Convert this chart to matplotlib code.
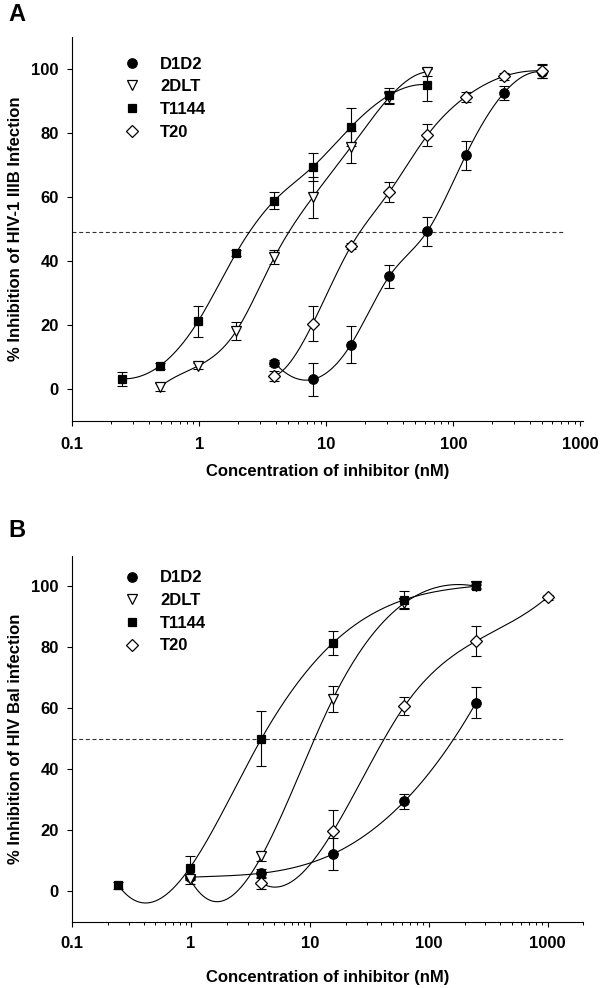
import numpy as np
import matplotlib
matplotlib.use("Agg")
import matplotlib.pyplot as plt
from matplotlib.lines import Line2D
from matplotlib.ticker import FixedLocator, LogLocator, NullFormatter

plt.rcParams['font.family'] = ['Liberation Sans', 'DejaVu Sans']
plt.rcParams['font.weight'] = 'bold'

# Panel A: HIV-1 IIIB, twofold dilutions (nM)
conc_a = [0.244, 0.488, 0.977, 1.953, 3.906, 7.813, 15.63, 31.25, 62.5, 125, 250, 500]
a_d1d2_x = conc_a[4:12]
a_d1d2_y = [8.1, 2.9, 13.8, 35.1, 49.2, 72.9, 92.4, 99.0]
a_d1d2_e = [1.0, 5.1, 5.7, 3.5, 4.6, 4.5, 2.2, 2.0]
a_2dlt_x = conc_a[1:9]
a_2dlt_y = [0.5, 7.1, 18.0, 41.1, 59.8, 75.5, 91.0, 99.0]
a_2dlt_e = [1.3, 1.0, 2.8, 2.2, 6.5, 5.0, 2.0, 1.2]
a_t1144_x = conc_a[0:9]
a_t1144_y = [3.1, 7.1, 21.0, 42.4, 58.8, 69.3, 81.8, 91.7, 95.0]
a_t1144_e = [2.2, 1.0, 4.7, 1.0, 2.7, 4.3, 6.0, 2.3, 5.0]
a_t20_x = conc_a[4:12]
a_t20_y = [3.9, 20.3, 44.5, 61.4, 79.2, 91.2, 97.6, 99.3]
a_t20_e = [1.5, 5.5, 1.0, 3.2, 3.5, 1.5, 1.0, 2.3]
a_ref = 49

# Panel B: HIV Bal, fourfold dilutions (nM)
conc_b = [0.244, 0.977, 3.906, 15.63, 62.5, 250, 1000]
b_d1d2_x = conc_b[1:6]
b_d1d2_y = [4.6, 5.9, 12.2, 29.5, 61.8]
b_d1d2_e = [0.8, 1.5, 5.2, 2.4, 5.0]
b_2dlt_x = conc_b[1:6]
b_2dlt_y = [4.0, 11.4, 63.1, 94.5, 100.0]
b_2dlt_e = [1.5, 1.6, 4.3, 1.5, 0.5]
b_t1144_x = conc_b[0:6]
b_t1144_y = [1.9, 7.7, 50.0, 81.4, 95.6, 100.0]
b_t1144_e = [1.2, 3.8, 9.0, 4.0, 2.9, 0.8]
b_t20_x = conc_b[2:7]
b_t20_y = [2.7, 19.6, 60.7, 82.0, 96.4]
b_t20_e = [2.0, 7.0, 2.9, 5.0, 0.8]
b_ref = 50

names = ['D1D2', '2DLT', 'T1144', 'T20']
x_ticks = [0.1, 1, 10, 100, 1000]
x_ticklabels = ['0.1', '1', '10', '100', '1000']
y_ticks = [0, 20, 40, 60, 80, 100]

# marker styles: (marker, face, size)
styles = [('o', 'black', 6.8), ('v', 'white', 7.5), ('s', 'black', 6.2), ('D', 'white', 5.8)]


def spline_curve(x, y, n=400):
    # not-a-knot cubic spline through the points, in log10(x)
    t = np.log10(np.asarray(x, float))
    y = np.asarray(y, float)
    k = len(t)
    h = np.diff(t)
    A = np.zeros((k, k))
    r = np.zeros(k)
    A[0, 0], A[0, 1], A[0, 2] = h[1], -(h[0] + h[1]), h[0]
    A[-1, -3], A[-1, -2], A[-1, -1] = h[-1], -(h[-2] + h[-1]), h[-2]
    for i in range(1, k - 1):
        A[i, i - 1] = h[i - 1]
        A[i, i] = 2 * (h[i - 1] + h[i])
        A[i, i + 1] = h[i]
        r[i] = 6 * ((y[i + 1] - y[i]) / h[i] - (y[i] - y[i - 1]) / h[i - 1])
    M = np.linalg.solve(A, r)
    tt = np.linspace(t[0], t[-1], n)
    idx = np.clip(np.searchsorted(t, tt) - 1, 0, k - 2)
    t0, t1 = t[idx], t[idx + 1]
    hh = t1 - t0
    a = (t1 - tt) / hh
    b = (tt - t0) / hh
    yy = a * y[idx] + b * y[idx + 1] + ((a**3 - a) * M[idx] + (b**3 - b) * M[idx + 1]) * hh**2 / 6
    return 10**tt, yy


def draw_panel(ax, series, ref, xmax, ylabel, leg_anchor, tick_pad):
    for (x, y, e), (mk, fc, ms) in zip(series, styles):
        cx, cy = spline_curve(x, y)
        ax.plot(cx, cy, color='black', lw=0.8, zorder=2)
        ax.errorbar(x, y, yerr=e, fmt='none', ecolor='black', elinewidth=0.8,
                    capsize=3.6, capthick=0.8, zorder=3)
        ax.plot(x, y, linestyle='none', marker=mk, markerfacecolor=fc,
                markeredgecolor='black', markeredgewidth=0.9, markersize=ms, zorder=4)

    ax.axhline(ref, xmin=0, xmax=0.965, color='#333333', lw=0.8, dashes=(3.6, 2.4), zorder=1)

    ax.set_xscale('log')
    ax.set_xlim(0.1, xmax)
    ax.set_ylim(-10, 110)
    ax.xaxis.set_major_locator(FixedLocator(x_ticks))
    ax.set_xticklabels(x_ticklabels)
    ax.xaxis.set_minor_locator(LogLocator(base=10, subs=np.arange(2, 10)))
    ax.xaxis.set_minor_formatter(NullFormatter())
    ax.set_yticks(y_ticks)
    ax.spines['top'].set_visible(False)
    ax.spines['right'].set_visible(False)
    for s in ['left', 'bottom']:
        ax.spines[s].set_linewidth(0.8)
    ax.tick_params(axis='both', which='major', length=3.8, width=0.8, labelsize=12)
    ax.tick_params(axis='x', which='minor', length=2.2, width=0.7)
    ax.tick_params(axis='x', which='major', pad=tick_pad)
    ax.tick_params(axis='y', which='major', pad=6)
    for lab in ax.get_xticklabels() + ax.get_yticklabels():
        lab.set_fontweight('bold')

    ax.set_ylabel(ylabel, fontsize=12, fontweight='bold')
    ax.set_xlabel('Concentration of inhibitor (nM)', fontsize=12, fontweight='bold')

    handles = [Line2D([], [], linestyle='none', marker=mk, markerfacecolor=fc,
                      markeredgecolor='black', markeredgewidth=0.9, markersize=ms)
               for mk, fc, ms in styles]
    ax.legend(handles, names, loc='upper left', bbox_to_anchor=leg_anchor, frameon=False,
              prop={'weight': 'bold', 'size': 12}, handlelength=1.0,
              handletextpad=1.2, labelspacing=0.46, borderpad=0, borderaxespad=0)


fig = plt.figure(figsize=(6, 9.88), dpi=100)

ax_a = fig.add_axes([0.1205, 0.5742, 0.8512, 0.3887])
draw_panel(ax_a,
           [(a_d1d2_x, a_d1d2_y, a_d1d2_e), (a_2dlt_x, a_2dlt_y, a_2dlt_e),
            (a_t1144_x, a_t1144_y, a_t1144_e), (a_t20_x, a_t20_y, a_t20_e)],
           a_ref, 1050, '% Inhibition of HIV-1 IIIB Infection', (0.0999, 0.948), 8)
ax_a.xaxis.set_label_coords(0.5, -0.113)
ax_a.yaxis.set_label_coords(-0.097, 0.5)

ax_b = fig.add_axes([0.1205, 0.0671, 0.8517, 0.3704])
draw_panel(ax_b,
           [(b_d1d2_x, b_d1d2_y, b_d1d2_e), (b_2dlt_x, b_2dlt_y, b_2dlt_e),
            (b_t1144_x, b_t1144_y, b_t1144_e), (b_t20_x, b_t20_y, b_t20_e)],
           b_ref, 2000, '% Inhibition of HIV Bal infection', (0.0999, 0.96), 6.7)
ax_b.xaxis.set_label_coords(0.5, -0.131)
ax_b.yaxis.set_label_coords(-0.097, 0.5)

fig.text(8 / 600, 1 - 3 / 988, 'A', fontsize=17, fontweight='bold', va='top', ha='left')
fig.text(8 / 600, 1 - 519 / 988, 'B', fontsize=17, fontweight='bold', va='top', ha='left')

fig.savefig('out.png', dpi=100)
